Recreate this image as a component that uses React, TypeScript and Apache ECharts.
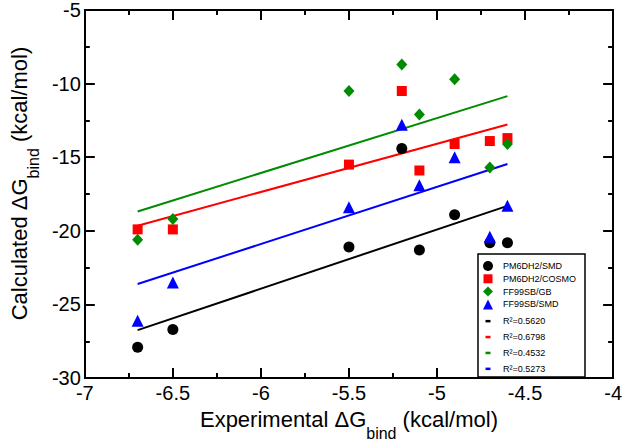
import React, { useEffect, useRef } from 'react';
import * as echarts from 'echarts';

// Experimental ΔG_bind (x) for each ligand
const experimental = [-6.7, -6.5, -5.5, -5.2, -5.1, -4.9, -4.7, -4.6];
// Calculated ΔG_bind per method
const pm6dh2Smd = [-27.9, -26.7, -21.1, -14.4, -21.3, -18.9, -20.8, -20.8];
const pm6dh2Cosmo = [-19.9, -19.9, -15.5, -10.5, -15.9, -14.1, -13.9, -13.7];
const ff99sbGb = [-20.6, -19.2, -10.5, -8.7, -12.1, -9.7, -15.7, -14.1];
const ff99sbSmd = [-26.1, -23.5, -18.4, -12.8, -16.9, -15.0, -20.4, -18.3];

// Fitted regression line end points
const fitX = [-6.7, -4.6];
const fitPm6dh2Smd = [-26.74, -18.3];
const fitPm6dh2Cosmo = [-19.65, -12.78];
const fitFf99sbGb = [-18.68, -10.85];
const fitFf99sbSmd = [-23.61, -15.46];

const scatterNames = ['PM6DH2/SMD', 'PM6DH2/COSMO', 'FF99SB/GB', 'FF99SB/SMD'];
const fitNames = ['R²=0.5620', 'R²=0.6798', 'R²=0.4532', 'R²=0.5273'];
const colors = ['#000000', '#ff0000', '#008b00', '#0000ff'];

const xTitle = '{a|Experimental ΔG}{b|bind}{a| (kcal/mol)}';
const yTitle = '{a|Calculated ΔG}{b|bind}{a| (kcal/mol)}';

const FONT = 'Liberation Sans, Arial, Helvetica, sans-serif';

const legendIcons = [
  'path://M0,0M15,10M0,5A5,5,0,1,0,10,5A5,5,0,1,0,0,5Z',
  'path://M0,0M15,10M0.5,0.5H9.5V9.5H0.5Z',
  'path://M0,0M15,10M5,0L10,5L5,10L0,5Z',
  'path://M0,0M15,10M5,0L10,10H0Z',
];
const dashIcon = 'path://M0,0M15,10M2.5,4H7.5V6.5H2.5Z';

const symbols = ['circle', 'rect', 'diamond', 'triangle'];
const symbolSizes: any[] = [11, 10, [11, 12], 12];

const richTitle = {
  a: { fontSize: 22, fontFamily: FONT, color: '#000', lineHeight: 22, verticalAlign: 'top' },
  b: { fontSize: 16, fontFamily: FONT, color: '#000', lineHeight: 16, verticalAlign: 'top', padding: [17, 0, 0, 0] },
};

function makeAxis(show: boolean, pos: string, min: number, max: number, interval: number, labelMargin: number) {
  return {
    type: 'value',
    position: pos,
    min,
    max,
    interval,
    axisLine: { show: true, onZero: false, lineStyle: { color: '#000', width: 2 } },
    axisTick: { show: true, inside: true, length: 10, lineStyle: { color: '#000', width: 2 } },
    minorTick: { show: true, splitNumber: 2, length: 5, lineStyle: { color: '#000', width: 2 } },
    splitLine: { show: false },
    minorSplitLine: { show: false },
    axisLabel: {
      show,
      color: '#000',
      fontSize: 20,
      fontFamily: FONT,
      margin: labelMargin,
      showMinLabel: true,
      showMaxLabel: true,
    },
  };
}

export default function App() {
  const ref = useRef<HTMLDivElement>(null);

  useEffect(() => {
    if (!ref.current) return;
    const chart = echarts.init(ref.current, null, { renderer: 'svg' });
    const ys = [pm6dh2Smd, pm6dh2Cosmo, ff99sbGb, ff99sbSmd];
    const fits = [fitPm6dh2Smd, fitPm6dh2Cosmo, fitFf99sbGb, fitFf99sbSmd];

    const lineSeries = fits.map((f, i) => ({
      name: fitNames[i],
      type: 'line',
      data: fitX.map((x, j) => [x, f[j]]),
      symbol: 'none',
      lineStyle: { color: colors[i], width: 2 },
      itemStyle: { color: colors[i] },
      z: 1,
    }));
    const scatterSeries = ys.map((y, i) => ({
      name: scatterNames[i],
      type: 'scatter',
      data: experimental.map((x, j) => [x, y[j]]),
      symbol: symbols[i],
      symbolSize: symbolSizes[i],
      itemStyle: { color: colors[i], opacity: 1 },
      z: 2,
    }));

    const xMain: any = makeAxis(true, 'bottom', -7, -4, 0.5, 5);
    xMain.name = xTitle;
    xMain.nameLocation = 'middle';
    xMain.nameGap = 21;
    xMain.nameTextStyle = { rich: richTitle };
    const yMain: any = makeAxis(true, 'left', -30, -5, 5, 4);
    yMain.name = yTitle;
    yMain.nameLocation = 'middle';
    yMain.nameGap = 35;
    yMain.nameTextStyle = { rich: richTitle, padding: [0, 0, 0, 21] };

    chart.setOption({
      animation: false,
      backgroundColor: '#fff',
      grid: { left: 67, right: 10, top: 7, bottom: 54, containLabel: false },
      xAxis: [xMain, makeAxis(false, 'top', -7, -4, 0.5, 5)],
      yAxis: [yMain, makeAxis(false, 'right', -30, -5, 5, 4)],
      legend: [
        {
          orient: 'vertical',
          left: 483,
          top: 261,
          itemWidth: 15,
          itemHeight: 10,
          itemGap: 2.8,
          padding: 0,
          selectedMode: false,
          textStyle: { fontSize: 9, fontFamily: FONT, color: '#000' },
          data: scatterNames.map((n, i) => ({ name: n, icon: legendIcons[i], itemStyle: { color: colors[i] } })),
        },
        {
          orient: 'vertical',
          left: 483,
          top: 315.9,
          itemWidth: 15,
          itemHeight: 10,
          itemGap: 5.9,
          padding: 0,
          selectedMode: false,
          textStyle: { fontSize: 9, fontFamily: FONT, color: '#000' },
          data: fitNames.map((n, i) => ({ name: n, icon: dashIcon, itemStyle: { color: colors[i] } })),
        },
      ],
      graphic: [
        {
          type: 'rect',
          z: 3,
          shape: { x: 478, y: 254, width: 107, height: 123 },
          style: { fill: '#fff', stroke: '#000', lineWidth: 1.5 },
        },
      ],
      series: [...lineSeries, ...scatterSeries],
    });
    return () => chart.dispose();
  }, []);

  return <div ref={ref} style={{ position: 'fixed', left: 0, top: 0, width: 625, height: 446 }} />;
}
